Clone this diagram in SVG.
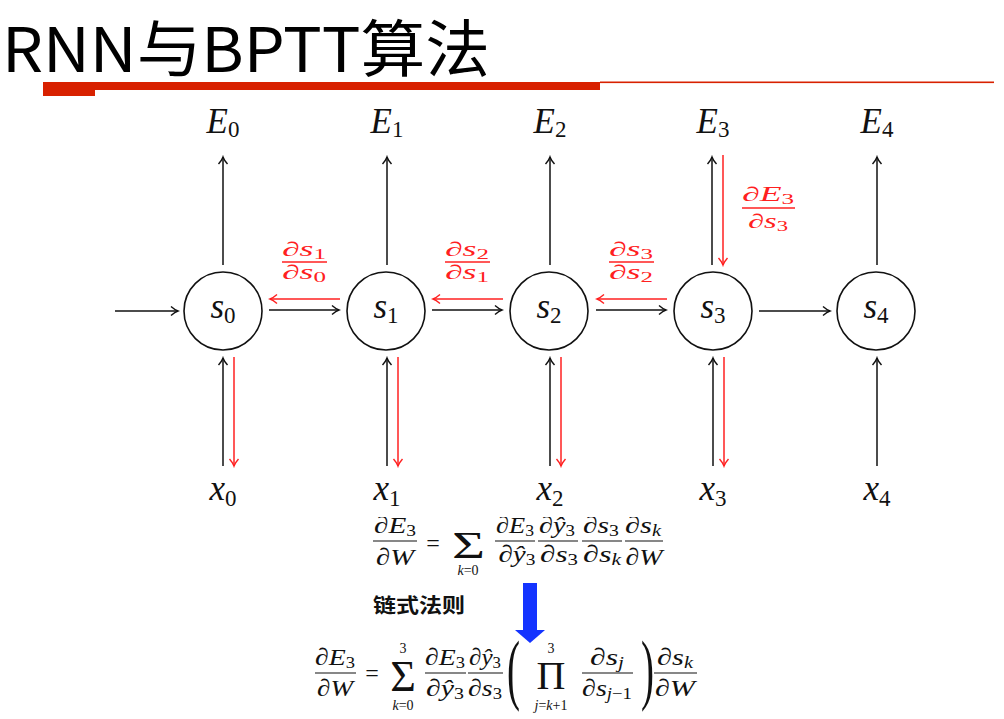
<svg xmlns="http://www.w3.org/2000/svg" width="1004" height="719" viewBox="0 0 1004 719">
<style>
.lbl{font-size:35px;text-anchor:middle}
.i{font-style:italic}
.sub{font-size:23px}
.circ{fill:#fff;stroke:#111;stroke-width:1.6}
.bl{stroke:#111;stroke-width:1.5;fill:none;marker-end:url(#ab)}
.rd{stroke:#ff2020;stroke-width:1.5;fill:none;marker-end:url(#ar)}
.rt{fill:#ff2020;font-size:20px;text-anchor:middle}
.rb{stroke:#ff2020;stroke-width:1.3}
.f{font-size:24px;text-anchor:middle}
.fs{font-size:16px}
.bar{stroke:#111;stroke-width:1.1}
.lim{font-size:14px;text-anchor:middle}
</style>
<defs>
<marker id="ab" viewBox="-10 -6 12 12" refX="0" refY="0" markerWidth="12" markerHeight="12" markerUnits="userSpaceOnUse" orient="auto">
<path d="M-7,-4.5 Q-3,-1 0,0 Q-3,1 -7,4.5" fill="none" stroke="#111" stroke-width="1.4"/>
</marker>
<marker id="ar" viewBox="-10 -6 12 12" refX="0" refY="0" markerWidth="12" markerHeight="12" markerUnits="userSpaceOnUse" orient="auto">
<path d="M-7,-4.5 Q-3,-1 0,0 Q-3,1 -7,4.5" fill="none" stroke="#ff2020" stroke-width="1.4"/>
</marker>
<clipPath id="clipF1"><rect x="360" y="517" width="340" height="70"/></clipPath>
</defs>
<rect width="1004" height="719" fill="#fff"/>

<g id="title">
<text x="2" y="72" font-family="'Noto Sans CJK SC','Liberation Sans',sans-serif" font-size="62" textLength="488" lengthAdjust="spacingAndGlyphs" fill="#000">RNN与BPTT算法</text>
<rect x="43" y="82" width="557" height="8" fill="#d82100"/>
<rect x="43" y="82" width="52" height="14" fill="#d82100"/>
<rect x="600" y="81.5" width="394" height="1.6" fill="#d82100"/>
</g>

<g id="connectors">
<line class="bl" x1="115" y1="311" x2="178" y2="311"/>
<line class="bl" x1="269" y1="310" x2="339" y2="310"/>
<line class="bl" x1="432" y1="310" x2="502" y2="310"/>
<line class="bl" x1="596" y1="310" x2="666" y2="310"/>
<line class="bl" x1="759" y1="311" x2="830" y2="311"/>
<line class="rd" x1="340" y1="299" x2="270" y2="299"/>
<line class="rd" x1="503" y1="299" x2="433" y2="299"/>
<line class="rd" x1="667" y1="299" x2="597" y2="299"/>
<line class="bl" x1="223" y1="265" x2="223" y2="157"/>
<line class="bl" x1="387" y1="265" x2="387" y2="157"/>
<line class="bl" x1="550" y1="265" x2="550" y2="157"/>
<line class="bl" x1="712" y1="265" x2="712" y2="157"/>
<line class="bl" x1="877" y1="265" x2="877" y2="157"/>
<line class="rd" x1="723" y1="155" x2="723" y2="265"/>
<line class="bl" x1="223" y1="466" x2="223" y2="358"/>
<line class="bl" x1="387" y1="466" x2="387" y2="358"/>
<line class="bl" x1="550" y1="466" x2="550" y2="358"/>
<line class="bl" x1="713" y1="466" x2="713" y2="358"/>
<line class="bl" x1="877" y1="466" x2="877" y2="358"/>
<line class="rd" x1="234" y1="357" x2="234" y2="466"/>
<line class="rd" x1="398" y1="357" x2="398" y2="466"/>
<line class="rd" x1="561" y1="357" x2="561" y2="466"/>
<line class="rd" x1="724" y1="357" x2="724" y2="466"/>
</g>

<g font-family="Liberation Serif, DejaVu Serif, serif" fill="#111">
<g id="node-s0"><circle class="circ" cx="223" cy="311" r="39"/><text class="lbl" x="223" y="318"><tspan class="i">s</tspan><tspan class="sub" dy="5">0</tspan></text></g>
<g id="node-s1"><circle class="circ" cx="386" cy="311" r="39"/><text class="lbl" x="386" y="318"><tspan class="i">s</tspan><tspan class="sub" dy="5">1</tspan></text></g>
<g id="node-s2"><circle class="circ" cx="549" cy="311" r="39"/><text class="lbl" x="549" y="318"><tspan class="i">s</tspan><tspan class="sub" dy="5">2</tspan></text></g>
<g id="node-s3"><circle class="circ" cx="713" cy="311" r="39"/><text class="lbl" x="713" y="318"><tspan class="i">s</tspan><tspan class="sub" dy="5">3</tspan></text></g>
<g id="node-s4"><circle class="circ" cx="876" cy="311" r="39"/><text class="lbl" x="876" y="318"><tspan class="i">s</tspan><tspan class="sub" dy="5">4</tspan></text></g>

<g id="node-E0"><text class="lbl" x="223" y="133"><tspan class="i">E</tspan><tspan class="sub" dy="4">0</tspan></text></g>
<g id="node-E1"><text class="lbl" x="387" y="133"><tspan class="i">E</tspan><tspan class="sub" dy="4">1</tspan></text></g>
<g id="node-E2"><text class="lbl" x="550" y="133"><tspan class="i">E</tspan><tspan class="sub" dy="4">2</tspan></text></g>
<g id="node-E3"><text class="lbl" x="713" y="133"><tspan class="i">E</tspan><tspan class="sub" dy="4">3</tspan></text></g>
<g id="node-E4"><text class="lbl" x="877" y="133"><tspan class="i">E</tspan><tspan class="sub" dy="4">4</tspan></text></g>

<g id="node-x0"><text class="lbl" x="223" y="500"><tspan class="i">x</tspan><tspan class="sub" dy="6">0</tspan></text></g>
<g id="node-x1"><text class="lbl" x="387" y="500"><tspan class="i">x</tspan><tspan class="sub" dy="6">1</tspan></text></g>
<g id="node-x2"><text class="lbl" x="550" y="500"><tspan class="i">x</tspan><tspan class="sub" dy="6">2</tspan></text></g>
<g id="node-x3"><text class="lbl" x="713" y="500"><tspan class="i">x</tspan><tspan class="sub" dy="6">3</tspan></text></g>
<g id="node-x4"><text class="lbl" x="877" y="500"><tspan class="i">x</tspan><tspan class="sub" dy="6">4</tspan></text></g>

<g id="grad-labels">
<text class="rt" x="304" y="256" textLength="44" lengthAdjust="spacingAndGlyphs">∂<tspan class="i">s</tspan><tspan font-size="14" dy="3">1</tspan></text>
<line class="rb" x1="282" y1="262" x2="327" y2="262"/>
<text class="rt" x="304" y="279" textLength="44" lengthAdjust="spacingAndGlyphs">∂<tspan class="i">s</tspan><tspan font-size="14" dy="3">0</tspan></text>

<text class="rt" x="467" y="256" textLength="44" lengthAdjust="spacingAndGlyphs">∂<tspan class="i">s</tspan><tspan font-size="14" dy="3">2</tspan></text>
<line class="rb" x1="445" y1="262" x2="490" y2="262"/>
<text class="rt" x="467" y="279" textLength="44" lengthAdjust="spacingAndGlyphs">∂<tspan class="i">s</tspan><tspan font-size="14" dy="3">1</tspan></text>

<text class="rt" x="631" y="256" textLength="44" lengthAdjust="spacingAndGlyphs">∂<tspan class="i">s</tspan><tspan font-size="14" dy="3">3</tspan></text>
<line class="rb" x1="609" y1="262" x2="654" y2="262"/>
<text class="rt" x="631" y="279" textLength="44" lengthAdjust="spacingAndGlyphs">∂<tspan class="i">s</tspan><tspan font-size="14" dy="3">2</tspan></text>

<text class="rt" x="768" y="201" textLength="52" lengthAdjust="spacingAndGlyphs">∂<tspan class="i">E</tspan><tspan font-size="14" dy="3">3</tspan></text>
<line class="rb" x1="742" y1="208" x2="795" y2="208"/>
<text class="rt" x="768" y="228" textLength="40" lengthAdjust="spacingAndGlyphs">∂<tspan class="i">s</tspan><tspan font-size="14" dy="3">3</tspan></text>
</g>

<g id="formula1" clip-path="url(#clipF1)">
<text class="f" x="395" y="533" textLength="42" lengthAdjust="spacingAndGlyphs">∂<tspan class="i">E</tspan><tspan class="fs" dy="3">3</tspan></text>
<line class="bar" x1="373" y1="541" x2="417" y2="541"/>
<text class="f" x="395" y="565" textLength="38" lengthAdjust="spacingAndGlyphs">∂<tspan class="i">W</tspan></text>
<text class="f" x="433" y="551" font-size="26">=</text>
<text x="452" y="558" font-size="38" textLength="33" lengthAdjust="spacingAndGlyphs">Σ</text>
<text class="lim" x="468" y="575"><tspan class="i">k</tspan>=0</text>
<text class="f" x="515" y="533" textLength="38" lengthAdjust="spacingAndGlyphs">∂<tspan class="i">E</tspan><tspan class="fs" dy="3">3</tspan></text>
<line class="bar" x1="495" y1="541" x2="535" y2="541"/>
<text class="f" x="517" y="562" textLength="37" lengthAdjust="spacingAndGlyphs">∂<tspan class="i">ŷ</tspan><tspan class="fs" dy="3">3</tspan></text>
<text class="f" x="557" y="533" textLength="36" lengthAdjust="spacingAndGlyphs">∂<tspan class="i">ŷ</tspan><tspan class="fs" dy="3">3</tspan></text>
<line class="bar" x1="538" y1="541" x2="578" y2="541"/>
<text class="f" x="559" y="562" textLength="38" lengthAdjust="spacingAndGlyphs">∂<tspan class="i">s</tspan><tspan class="fs" dy="3">3</tspan></text>
<text class="f" x="601" y="533" textLength="36" lengthAdjust="spacingAndGlyphs">∂<tspan class="i">s</tspan><tspan class="fs" dy="3">3</tspan></text>
<line class="bar" x1="582" y1="541" x2="622" y2="541"/>
<text class="f" x="602" y="562" textLength="38" lengthAdjust="spacingAndGlyphs">∂<tspan class="i">s</tspan><tspan class="fs i" dy="3">k</tspan></text>
<text class="f" x="643" y="533" textLength="36" lengthAdjust="spacingAndGlyphs">∂<tspan class="i">s</tspan><tspan class="fs i" dy="3">k</tspan></text>
<line class="bar" x1="625" y1="541" x2="663" y2="541"/>
<text class="f" x="644" y="565" textLength="37" lengthAdjust="spacingAndGlyphs">∂<tspan class="i">W</tspan></text>
</g>

<g id="formula2">
<text class="f" x="335" y="665" textLength="40" lengthAdjust="spacingAndGlyphs">∂<tspan class="i">E</tspan><tspan class="fs" dy="3">3</tspan></text>
<line class="bar" x1="315" y1="673" x2="356" y2="673"/>
<text class="f" x="335" y="696" textLength="36" lengthAdjust="spacingAndGlyphs">∂<tspan class="i">W</tspan></text>
<text class="f" x="372" y="681" font-size="26">=</text>
<text class="lim" x="403" y="653">3</text>
<text x="403" y="691" font-size="44" text-anchor="middle">Σ</text>
<text class="lim" x="403" y="710"><tspan class="i">k</tspan>=0</text>
<text class="f" x="445" y="665" textLength="40" lengthAdjust="spacingAndGlyphs">∂<tspan class="i">E</tspan><tspan class="fs" dy="3">3</tspan></text>
<line class="bar" x1="425" y1="673" x2="466" y2="673"/>
<text class="f" x="445" y="696" textLength="38" lengthAdjust="spacingAndGlyphs">∂<tspan class="i">ŷ</tspan><tspan class="fs" dy="3">3</tspan></text>
<text class="f" x="485" y="665" textLength="32" lengthAdjust="spacingAndGlyphs">∂<tspan class="i">ŷ</tspan><tspan class="fs" dy="3">3</tspan></text>
<line class="bar" x1="468" y1="673" x2="503" y2="673"/>
<text class="f" x="485" y="696" textLength="34" lengthAdjust="spacingAndGlyphs">∂<tspan class="i">s</tspan><tspan class="fs" dy="3">3</tspan></text>
<text transform="translate(507,695) scale(0.5,1)" font-size="78">(</text>
<text class="lim" x="551" y="653">3</text>
<text x="551" y="689" font-size="40" text-anchor="middle">Π</text>
<text class="lim" x="551" y="710"><tspan class="i">j</tspan>=<tspan class="i">k</tspan>+1</text>
<text class="f" x="607" y="665" textLength="34" lengthAdjust="spacingAndGlyphs">∂<tspan class="i">s</tspan><tspan class="fs i" dy="3">j</tspan></text>
<line class="bar" x1="582" y1="673" x2="633" y2="673"/>
<text class="f" x="607" y="696" textLength="50" lengthAdjust="spacingAndGlyphs">∂<tspan class="i">s</tspan><tspan class="fs" dy="3"><tspan class="i">j</tspan>−1</tspan></text>
<text transform="translate(641,695) scale(0.5,1)" font-size="78">)</text>
<text class="f" x="675" y="665" textLength="36" lengthAdjust="spacingAndGlyphs">∂<tspan class="i">s</tspan><tspan class="fs i" dy="3">k</tspan></text>
<line class="bar" x1="654" y1="673" x2="697" y2="673"/>
<text class="f" x="675" y="696" textLength="40" lengthAdjust="spacingAndGlyphs">∂<tspan class="i">W</tspan></text>
</g>
</g>

<g id="chain-rule">
<text x="373" y="613" font-family="'Noto Sans CJK SC',sans-serif" font-size="20" font-weight="700" textLength="92" lengthAdjust="spacingAndGlyphs" fill="#111">链式法则</text>
</g>

<g id="blue-arrow">
<rect x="523" y="583" width="14" height="48" fill="#1434ff"/>
<polygon points="515,630 545,630 530,643" fill="#1434ff"/>
</g>
</svg>
